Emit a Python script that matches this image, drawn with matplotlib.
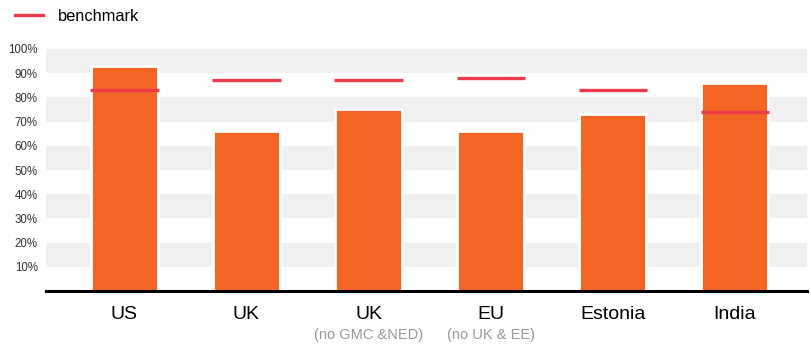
import numpy as np
import matplotlib.pyplot as plt
from matplotlib.lines import Line2D

plt.rcParams['font.family'] = ['Liberation Sans', 'DejaVu Sans']

labels = ['US', 'UK', 'UK', 'EU', 'Estonia', 'India']
sublabels = ['', '', '(no GMC &NED)', '(no UK & EE)', '', '']
scores = [93, 66, 75, 66, 73, 86]
benchmark = [83, 87, 87, 88, 83, 74]

orange = '#F26524'
red = '#EE3A4A'
band = '#F0F0F0'

fig = plt.figure(figsize=(8.11, 3.47), dpi=100)
ax = fig.add_axes([0.057, 0.161, 0.938, 0.698])

# alternating grey bands every other 10%
for lo in range(10, 100, 20):
    ax.axhspan(lo, lo + 10, color=band, lw=0, zorder=0)

x = np.arange(len(labels))
ax.bar(x, scores, width=0.55, color=orange, edgecolor='white', linewidth=2, zorder=2)
ax.hlines(benchmark, x - 0.28, x + 0.28, color=red, linewidth=2.4, zorder=3)

ax.set_xlim(-0.64, 5.59)
ax.set_ylim(0, 100)
ax.set_yticks(range(10, 101, 10))
ax.set_yticklabels([f'{v}%' for v in range(10, 101, 10)], fontsize=8.3, color='#333333')
ax.tick_params(axis='y', length=0, pad=6)
ax.set_xticks([])

for s in ['top', 'right', 'left']:
    ax.spines[s].set_visible(False)
ax.spines['bottom'].set_linewidth(2.2)
ax.spines['bottom'].set_color('black')
ax.spines['bottom'].set_zorder(4)

for xi, name, sub in zip(x, labels, sublabels):
    ax.text(xi, -6.3, name, ha='center', va='top', fontsize=14, color='black',
            clip_on=False)
    if sub:
        ax.text(xi, -15.3, sub, ha='center', va='top', fontsize=10.5, color='#999999',
                clip_on=False)

handle = Line2D([], [], color=red, linewidth=2.4)
fig.legend([handle], ['benchmark'], loc='upper left', bbox_to_anchor=(0.0, 1.018),
           frameon=False, fontsize=11.8, handlelength=1.7, handletextpad=0.95)

fig.savefig('out.png', dpi=100)
